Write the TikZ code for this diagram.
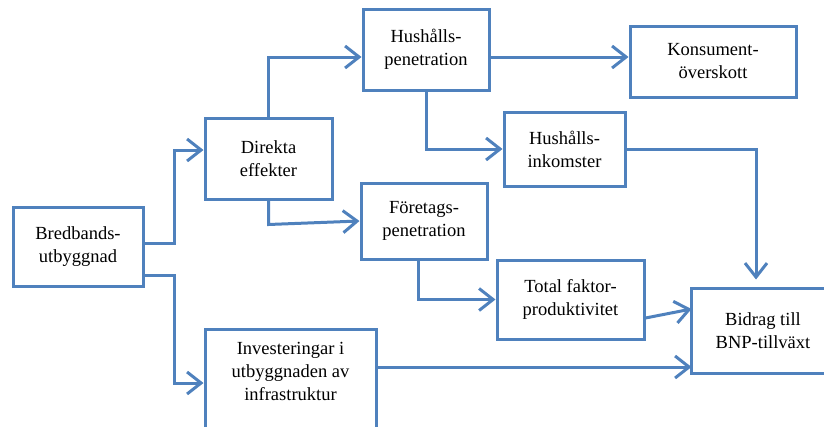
\documentclass[tikz,border=0pt]{standalone}
\usepackage{fontspec}
\setmainfont{Liberation Serif}
\usetikzlibrary{arrows.meta,calc}
\definecolor{lineblue}{HTML}{4F81BD}
\tikzset{
  box/.style={draw=lineblue, line width=3pt, fill=white, align=center, inner sep=2pt,
    font=\fontsize{18.5}{23}\selectfont},
  frame/.style={draw=lineblue, line width=3pt},
  arr/.style={draw=lineblue, line width=3pt, -{Straight Barb[length=14pt,width=22pt]}}
}
\begin{document}
\begin{tikzpicture}[x=1pt,y=-1pt]
\useasboundingbox (0,0) rectangle (824,426);
\clip (0,0) rectangle (824,426);
\node[box, minimum width=130, minimum height=79] (bred) at (78,246.5) {Bredbands-\\utbyggnad};
\node[box, minimum width=127, minimum height=81] (dir) at (268.5,158.5) {Direkta\\effekter};
\node[box, minimum width=126, minimum height=81] (hpen) at (426,49.5) {Hushålls-\\penetration};
\node[box, minimum width=166, minimum height=71] (kons) at (713,61.5) {Konsument-\\överskott};
\node[box, minimum width=121, minimum height=74] (hink) at (564.5,149) {Hushålls-\\inkomster};
\node[box, minimum width=126, minimum height=76] (fore) at (424,221) {Företags-\\penetration};
\node[box, minimum width=147, minimum height=79] (total) at (570.5,299.5) {Total faktor-\\produktivitet};
\node[box, draw=none, minimum width=140, minimum height=82] (bid) at (763,331) {Bidrag till\\BNP-tillväxt};
\draw[frame] (bid.north west) rectangle ($(bid.south east)+(80,0)$);
\node[box, minimum width=171, minimum height=130, anchor=north] (inv) at (290.5,328) {};
\node[align=center, font=\fontsize{18.5}{23}\selectfont, anchor=north] (invtext) at (290.5,339) {Investeringar i\\utbyggnaden av\\infrastruktur};

\draw[arr] ($(bred.east)+(0,-3.5)$) -- ++(30,0) |- ($(dir.west)+(0,-8.5)$);
\draw[arr] ($(bred.east)+(0,28.5)$) -- ++(30,0) |- ($(inv.north west)+(0,55)$);
\draw[arr] (dir.north) |- ($(hpen.west)+(0,7.5)$);
\draw[arr] (dir.south) -- ++(0,24) -- (fore.west);
\draw[arr] ($(hpen.east)+(0,7.5)$) -- ($(kons.west)+(0,-4.5)$);
\draw[arr] (hpen.south) |- (hink.west);
\draw[arr] (hink.east) -| ($(bid.north)+(-7,-9)$);
\draw[arr] ($(fore.south)+(-6,0)$) |- (total.west);
\draw[arr] ($(total.east)+(0,18.5)$) -- ($(bid.west)+(0,-22)$);
\draw[arr] ($(inv.north east)+(0,39)$) -- ($(bid.west)+(0,36)$);
\end{tikzpicture}
\end{document}
